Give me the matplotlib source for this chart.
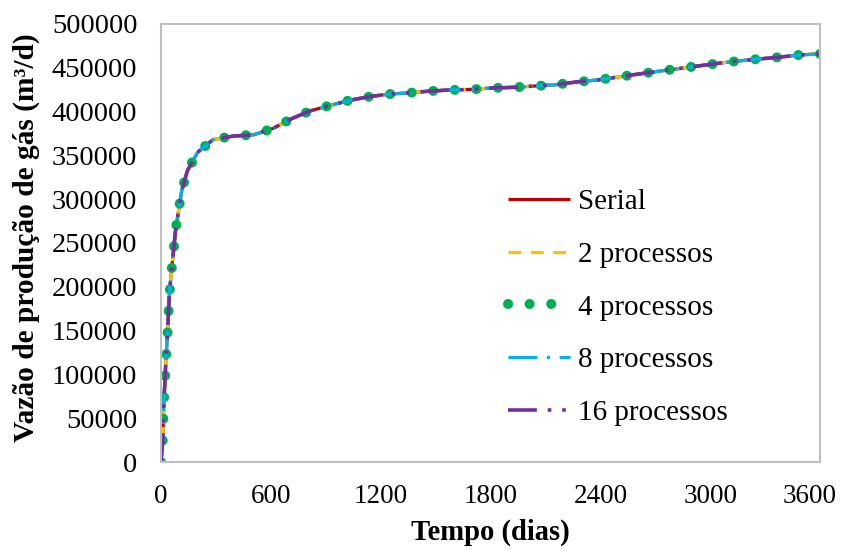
import matplotlib
matplotlib.use("Agg")
import matplotlib.pyplot as plt
from matplotlib.transforms import ScaledTranslation

# Time (days)
tempo = [0, 9, 12.7, 16, 22, 27, 34.6, 40, 45.5, 55, 67, 78, 95, 113, 144, 200,
         284, 393, 508, 614, 714, 818, 923, 1033, 1137, 1248, 1361, 1475, 1588,
         1703, 1816, 1931, 2044, 2157, 2268, 2381, 2490, 2600, 2709, 2818, 2931,
         3040, 3154, 3264, 3373, 3488, 3600]
# Gas production rate (m3/d) -- the five runs overlap in the picture
vazao = [0, 23000, 47000, 70800, 94500, 118000, 143000, 166700, 190000, 214000,
         238000, 262000, 285800, 309700, 332500, 353500, 368000, 372000, 373600,
         381000, 392000, 401000, 407000, 413000, 417000, 420000, 421500, 423500,
         424700, 425400, 427000, 427700, 429200, 430700, 433800, 436000, 439300,
         442600, 445800, 448800, 452000, 455000, 457800, 460000, 462000, 464700,
         465800]

series_names = ["Serial", "2 processos", "4 processos", "8 processos", "16 processos"]
series_values = {name: vazao for name in series_names}

x_ticks = [0, 600, 1200, 1800, 2400, 3000, 3600]
y_ticks = list(range(0, 500001, 50000))

plt.rcParams['font.family'] = ['Liberation Serif', 'DejaVu Serif']

fig = plt.figure(figsize=(8.43, 5.5), dpi=100)
ax = fig.add_axes([0.191, 0.16, 0.9727 - 0.191, 0.9564 - 0.16])

styles = {
    "Serial": dict(color="#C00000", lw=2.3, linestyle="-"),
    "2 processos": dict(color="#FFC000", lw=2.3, linestyle=(0, (4, 3))),
    "4 processos": dict(color="#00B050", lw=7.2, linestyle=(0, (0.01, 2.15)),
                        dash_capstyle="round"),
    "8 processos": dict(color="#00B0F0", lw=2.3, linestyle=(0, (9, 3, 1, 3))),
    "16 processos": dict(color="#7030A0", lw=2.6, linestyle=(0, (8, 3, 1, 3, 1, 3))),
}

for name in series_names:
    ax.plot(tempo, series_values[name], label=name, solid_capstyle="butt",
            **styles[name])

ax.set_xlim(0, 3600)
ax.set_ylim(0, 500000)
ax.set_xticks(x_ticks)
ax.set_yticks(y_ticks)
ax.tick_params(axis='both', length=0)
ax.tick_params(axis='y', pad=17, labelsize=20.5)
ax.tick_params(axis='x', pad=15.5, labelsize=19.5)
for s in ax.spines.values():
    s.set_color("#BFBFBF")
    s.set_linewidth(1.5)

ax.set_xlabel("Tempo (dias)", fontsize=20.6, fontweight="bold", labelpad=7)
ax.set_ylabel("Vazão de produção de gás (m³/d)", fontsize=21.2, fontweight="bold")
ax.yaxis.set_label_coords(-0.184, 0.5126)

leg = fig.legend(loc="upper left", bbox_to_anchor=(508 / 843, 1 - 188.5 / 550),
                 frameon=False, fontsize=21, handlelength=2.12, handletextpad=0.27,
                 labelspacing=0.905, borderpad=0, borderaxespad=0)

# Excel pulls the last x label inward so it stays inside the picture
last = ax.get_xticklabels()[-1]
last.set_transform(last.get_transform() +
                   ScaledTranslation(-10 / 100, 0, fig.dpi_scale_trans))

fig.savefig("out.png", dpi=100)
